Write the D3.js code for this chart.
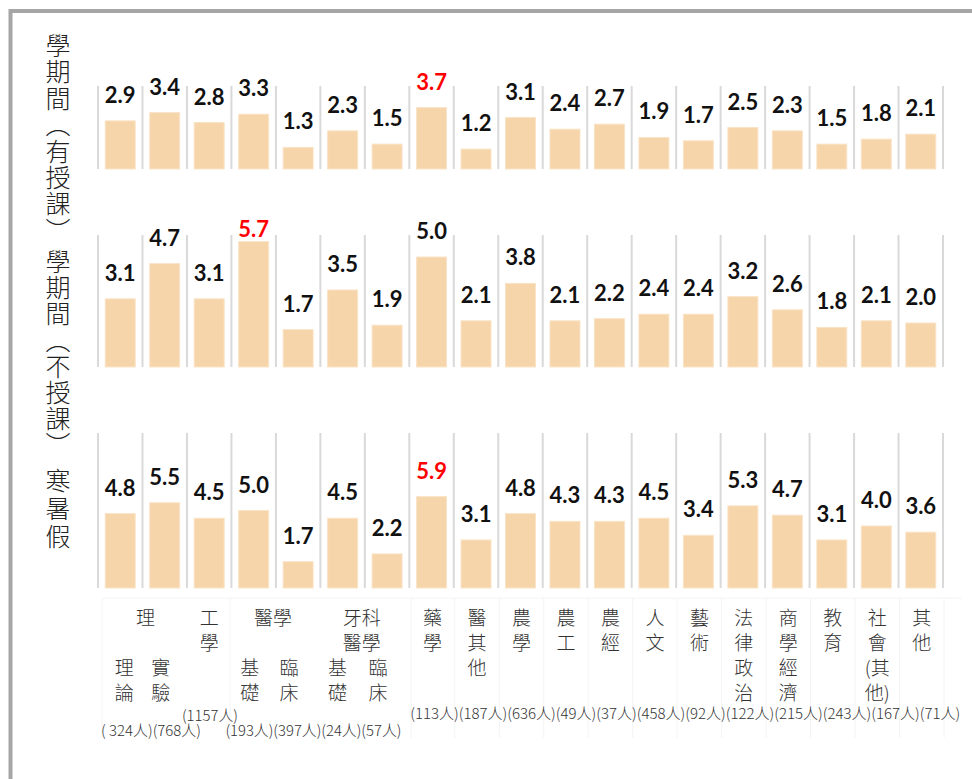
<!DOCTYPE html>
<html><head><meta charset="utf-8">
<script src="https://cdn.jsdelivr.net/npm/d3@7"></script>
<style>
html,body{margin:0;padding:0;background:#fff;}
svg{display:block;}
</style></head>
<body>
<svg id="chart" width="972" height="779"></svg>
<script>
// ---------- data ----------
const categories = ["理論","實驗","工學","醫學基礎","醫學臨床","牙科基礎","牙科臨床","藥學","醫其他","農學","農工","農經","人文","藝術","法律政治","商學經濟","教育","社會(其他)","其他"];
const semesterTeaching   = [2.9,3.4,2.8,3.3,1.3,2.3,1.5,3.7,1.2,3.1,2.4,2.7,1.9,1.7,2.5,2.3,1.5,1.8,2.1];
const semesterNoTeaching = [3.1,4.7,3.1,5.7,1.7,3.5,1.9,5.0,2.1,3.8,2.1,2.2,2.4,2.4,3.2,2.6,1.8,2.1,2.0];
const vacation           = [4.8,5.5,4.5,5.0,1.7,4.5,2.2,5.9,3.1,4.8,4.3,4.3,4.5,3.4,5.3,4.7,3.1,4.0,3.6];
const counts = [324,768,1157,193,397,24,57,113,187,636,49,37,458,92,122,215,243,167,71];
const panelTitles = ["學期間（有授課）","學期間（不授課）","寒暑假"];
// label lines per column: [startRow, lines]
const columnLabels = [
  [2,["理","論"]],[2,["實","驗"]],[0,["工","學"]],[2,["基","礎"]],[2,["臨","床"]],
  [2,["基","礎"]],[2,["臨","床"]],[0,["藥","學"]],[0,["醫","其","他"]],[0,["農","學"]],
  [0,["農","工"]],[0,["農","經"]],[0,["人","文"]],[0,["藝","術"]],[0,["法","律","政","治"]],
  [0,["商","學","經","濟"]],[0,["教","育"]],[0,["社","會","(其","他)"]],[0,["其","他"]]
];
const groupLabels = [
  {cols:[0,1], lines:["理"]},
  {cols:[3,4], lines:["醫學"]},
  {cols:[5,6], lines:["牙科","醫學"]}
];
const countGroups = [[0,1],[2],[3,4,5,6],[7,8,9,10,11,12,13,14,15,16,17,18]];

// ---------- layout ----------
const svg = d3.select("#chart");
const x = d3.scaleBand().domain(d3.range(categories.length)).range([98, 943]);
const bw = x.bandwidth();
const barW = 30;
const panels = [
  {values: semesterTeaching,   top: 86,  bottom: 169, max: 5,  titleTop: 33,  spacing: 1.4},
  {values: semesterNoTeaching, top: 235, bottom: 367, max: 6,  titleTop: 249, spacing: 1.2},
  {values: vacation,           top: 433, bottom: 588, max: 10, titleTop: 468, spacing: 3}
];

// frame
svg.append("path").attr("d","M10.5,779V11H972").attr("fill","none")
  .attr("stroke","#a6a6a6").attr("stroke-width",4);

// faint table lines in label area
const tbl = svg.append("g").attr("stroke","#f4f4f4").attr("stroke-width",1);
tbl.append("line").attr("x1",102).attr("x2",962).attr("y1",598).attr("y2",598);
[102, 230, 411].concat(d3.range(8,20).map(i=>x(0)+i*bw+1)).forEach(v=>{
  tbl.append("line").attr("x1",v).attr("x2",v).attr("y1",598).attr("y2",738);
});

panels.forEach((p, pi) => {
  const y = d3.scaleLinear().domain([0, p.max]).range([p.bottom, p.top]);
  const g = svg.append("g");
  // column separators
  g.selectAll("line.sep").data(d3.range(categories.length+1)).join("line")
    .attr("x1", i => x(0) + i*bw).attr("x2", i => x(0) + i*bw)
    .attr("y1", p.top).attr("y2", p.bottom)
    .attr("stroke","#d9d9d9").attr("stroke-width",2);
  // bars
  g.selectAll("rect").data(p.values).join("rect")
    .attr("x", (d,i) => x(i) + (bw-barW)/2)
    .attr("y", d => y(d))
    .attr("width", barW)
    .attr("height", d => y(0) - y(d))
    .attr("fill","#f6d5aa").attr("stroke","#fae4c8").attr("stroke-width",1);
  const mx = d3.max(p.values);
  g.selectAll("text.val").data(p.values).join("text")
    .attr("x", (d,i) => x(i) + bw/2)
    .attr("y", d => Math.max(y(d) - 18, p.top + 2))
    .attr("text-anchor","middle")
    .attr("font-family","Lato, 'Open Sans', sans-serif")
    .attr("font-weight",700).attr("font-size",22)
    .attr("fill", d => d === mx ? "#ff0000" : "#111")
    .text(d => d.toFixed(1));
  // title, vertical writing
  svg.append("text")
    .attr("x", 58).attr("y", p.titleTop)
    .style("writing-mode","vertical-rl")
    .style("letter-spacing", p.spacing + "px")
    .attr("font-family","'Noto Sans CJK TC', sans-serif").attr("font-weight",300)
    .attr("font-size",25).attr("fill","#222")
    .text(panelTitles[pi]);
});

// category labels
const rowY = r => 616 + r*25;
const labelFont = "'Noto Sans CJK TC', sans-serif";
const subOffset = [4,-4,0,-4,-9,-5,-9,1,1,1,1,1,1,1,1,1,1,1,1];
columnLabels.forEach(([start, lines], i) => {
  lines.forEach((t, k) => {
    svg.append("text").attr("x", x(i) + bw/2 + subOffset[i]).attr("y", rowY(start+k))
      .attr("text-anchor","middle").attr("dominant-baseline","central")
      .attr("font-family", labelFont).attr("font-weight",300).attr("font-size",19)
      .attr("fill","#333").text(t);
  });
});
groupLabels.forEach(gl => {
  const cx = (x(gl.cols[0]) + x(gl.cols[gl.cols.length-1]) + bw)/2 + (gl.cols[0]===0 ? 3 : -3);
  gl.lines.forEach((t,k) => {
    svg.append("text").attr("x", cx).attr("y", rowY(k))
      .attr("text-anchor","middle").attr("dominant-baseline","central")
      .attr("font-family", labelFont).attr("font-weight",300).attr("font-size",19)
      .attr("fill","#333").text(t);
  });
});

// count labels
const countPos = [
  {x0: x(0)+3,  w: 100, y: 736},
  {x0: x(2)-5,  w: 56,  y: 721},
  {x0: x(3)-6,  w: 176, y: 736},
  {x0: x(7)+1,  w: 550, y: 719}
];
countGroups.forEach((grp, gi) => {
  const s = grp.map((i,k) => (gi===0 && k===0 ? "( " : "(") + counts[i] + "人)").join("");
  svg.append("text").attr("x", countPos[gi].x0).attr("y", countPos[gi].y)
    .attr("font-family", labelFont).attr("font-weight",300).attr("font-size",15)
    .attr("fill","#333")
    .attr("textLength", countPos[gi].w).attr("lengthAdjust","spacingAndGlyphs")
    .text(s);
});
</script>
</body></html>
